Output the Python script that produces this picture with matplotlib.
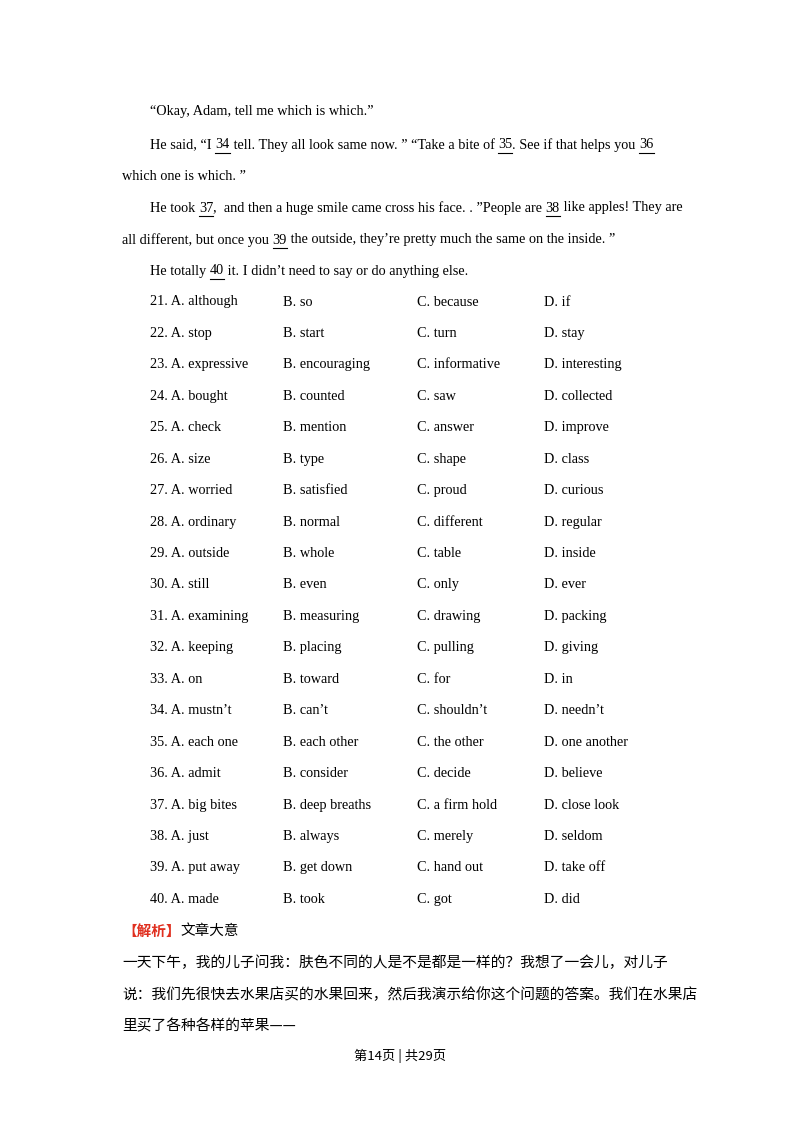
import matplotlib
matplotlib.use("Agg")
import matplotlib.pyplot as plt

W, H = 800, 1132
EN = ["Liberation Serif", "DejaVu Serif"]
CN = ["Noto Sans CJK SC", "DejaVu Sans"]
FS = 10.3

# passage lines: (x, y, [(text, underlined), ...])
passage = [
    (150, 112, [("“Okay, Adam, tell me which is which.”", False)]),
    (150, 145, [("He said, “I ", False), ("34", True), (" tell. They all look same now. ” “Take a bite of ", False),
                ("35", True), (". See if that helps you ", False), ("36", True)]),
    (122, 177, [("which one is which. ”", False)]),
    (150, 208, [("He took ", False), ("37", True), (",  and then a huge smile came cross his face. . ”People are ", False),
                ("38", True), (" like apples! They are", False)]),
    (122, 240, [("all different, but once you ", False), ("39", True),
                (" the outside, they’re pretty much the same on the inside. ”", False)]),
    (150, 271, [("He totally ", False), ("40", True), (" it. I didn’t need to say or do anything else.", False)]),
]

numbers = list(range(21, 41))
opt_a = ["although", "stop", "expressive", "bought", "check", "size", "worried", "ordinary", "outside", "still",
         "examining", "keeping", "on", "mustn’t", "each one", "admit", "big bites", "just", "put away", "made"]
opt_b = ["so", "start", "encouraging", "counted", "mention", "type", "satisfied", "normal", "whole", "even",
         "measuring", "placing", "toward", "can’t", "each other", "consider", "deep breaths", "always", "get down", "took"]
opt_c = ["because", "turn", "informative", "saw", "answer", "shape", "proud", "different", "table", "only",
         "drawing", "pulling", "for", "shouldn’t", "the other", "decide", "a firm hold", "merely", "hand out", "got"]
opt_d = ["if", "stay", "interesting", "collected", "improve", "class", "curious", "regular", "inside", "ever",
         "packing", "giving", "in", "needn’t", "one another", "believe", "close look", "seldom", "take off", "did"]

cn_lines = [
    (122, 963, "一天下午，我的儿子问我：肤色不同的人是不是都是一样的？我想了一会儿，对儿子"),
    (122, 995, "说：我们先很快去水果店买的水果回来，然后我演示给你这个问题的答案。我们在水果店"),
    (122, 1026, "里买了各种各样的苹果——"),
]

fig = plt.figure(figsize=(W / 100, H / 100), dpi=100)
fig.patch.set_facecolor("white")
r = fig.canvas.get_renderer()


def fy(y):
    return 1 - y / H


for x0, y, runs in passage:
    x = x0
    for txt, ul in runs:
        t = fig.text(x / W, fy(y), txt, family=EN, fontsize=FS, va="center", ha="left")
        w = t.get_window_extent(r).width
        if ul:
            fig.add_artist(plt.Line2D([x / W, (x + w) / W], [fy(y + 8), fy(y + 8)], color="black", lw=0.8))
        x += w

y = 302
for i in range(len(numbers)):
    row = [f"{numbers[i]}. A. {opt_a[i]}", f"B. {opt_b[i]}", f"C. {opt_c[i]}", f"D. {opt_d[i]}"]
    for x, s in zip([150, 283, 417, 544], row):
        fig.text(x / W, fy(y), s, family=EN, fontsize=FS, va="center")
    y += 31.44

t = fig.text(122 / W, fy(931), "【解析】", family=CN, fontsize=10.5, va="center", color="#e03020", weight="bold")
w = t.get_window_extent(r).width
fig.text((122 + w) / W, fy(931), "文章大意", family=CN, fontsize=10.5, va="center")

for x, yy, s in cn_lines:
    fig.text(x / W, fy(yy), s, family=CN, fontsize=10.6, va="center")

fig.text(0.5, fy(1056), "第14页 | 共29页", family=CN, fontsize=9.5, va="center", ha="center")

fig.savefig("out.png", dpi=100)
